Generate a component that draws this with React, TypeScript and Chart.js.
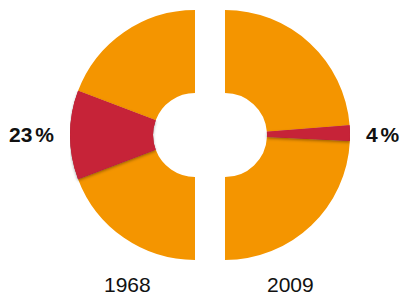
import React, { useEffect, useRef } from "react";
import { Chart, registerables } from "chart.js";
Chart.register(...registerables);

const years = ["1968", "2009"];
const shareLabels = ["23 %", "4 %"];
const segmentNames = ["Other", "Share", "Other"];
const values1968 = [38.5, 23, 38.5];
const values2009 = [47.5, 4, 48.5];
const sliceColors = ["#F49500", "#C62338", "#F49500"];

const shadowPlugin = {
  id: "redShadow",
  afterDatasetsDraw(chart: any) {
    const meta = chart.getDatasetMeta(0);
    const el = meta.data[1];
    if (!el) return;
    const ctx = chart.ctx;
    ctx.save();
    ctx.shadowColor = "rgba(0,0,0,0.35)";
    ctx.shadowBlur = 3;
    ctx.shadowOffsetY = 1.5;
    el.draw(ctx);
    ctx.restore();
  },
};

function Half({ values, rotation, left }: { values: number[]; rotation: number; left: number }) {
  const ref = useRef<HTMLCanvasElement>(null);
  useEffect(() => {
    const chart = new Chart(ref.current!, {
      type: "doughnut",
      data: {
        labels: segmentNames,
        datasets: [{ data: values, backgroundColor: sliceColors, borderWidth: 0 }],
      },
      options: {
        responsive: false,
        animation: false,
        events: [],
        rotation,
        circumference: 180,
        cutout: "33.6%",
        layout: { padding: 0 },
        plugins: { legend: { display: false }, tooltip: { enabled: false } },
      } as any,
      plugins: [shadowPlugin],
    });
    return () => chart.destroy();
  }, []);
  return (
    <canvas
      ref={ref}
      width={125}
      height={250}
      style={{ position: "absolute", left, top: 10, width: 125, height: 250 }}
    />
  );
}

const textBase: React.CSSProperties = {
  position: "absolute",
  fontFamily: "'Liberation Sans', Arial, sans-serif",
  fontSize: 21,
  lineHeight: "21px",
  whiteSpace: "nowrap",
  color: "#111",
};

export default function App() {
  return (
    <div
      style={{
        position: "absolute",
        left: 0,
        top: 0,
        width: 400,
        height: 294,
        overflow: "hidden",
        background: "#fff",
      }}
    >
      <Half values={values1968} rotation={180} left={70} />
      <Half values={values2009} rotation={0} left={225} />
      <div style={{ ...textBase, left: 9, top: 124, fontWeight: "bold", wordSpacing: -3 }}>{shareLabels[0]}</div>
      <div style={{ ...textBase, left: 366, top: 124, fontWeight: "bold", wordSpacing: -3 }}>{shareLabels[1]}</div>
      <div style={{ ...textBase, left: 104, top: 274 }}>{years[0]}</div>
      <div style={{ ...textBase, left: 267, top: 274 }}>{years[1]}</div>
    </div>
  );
}
